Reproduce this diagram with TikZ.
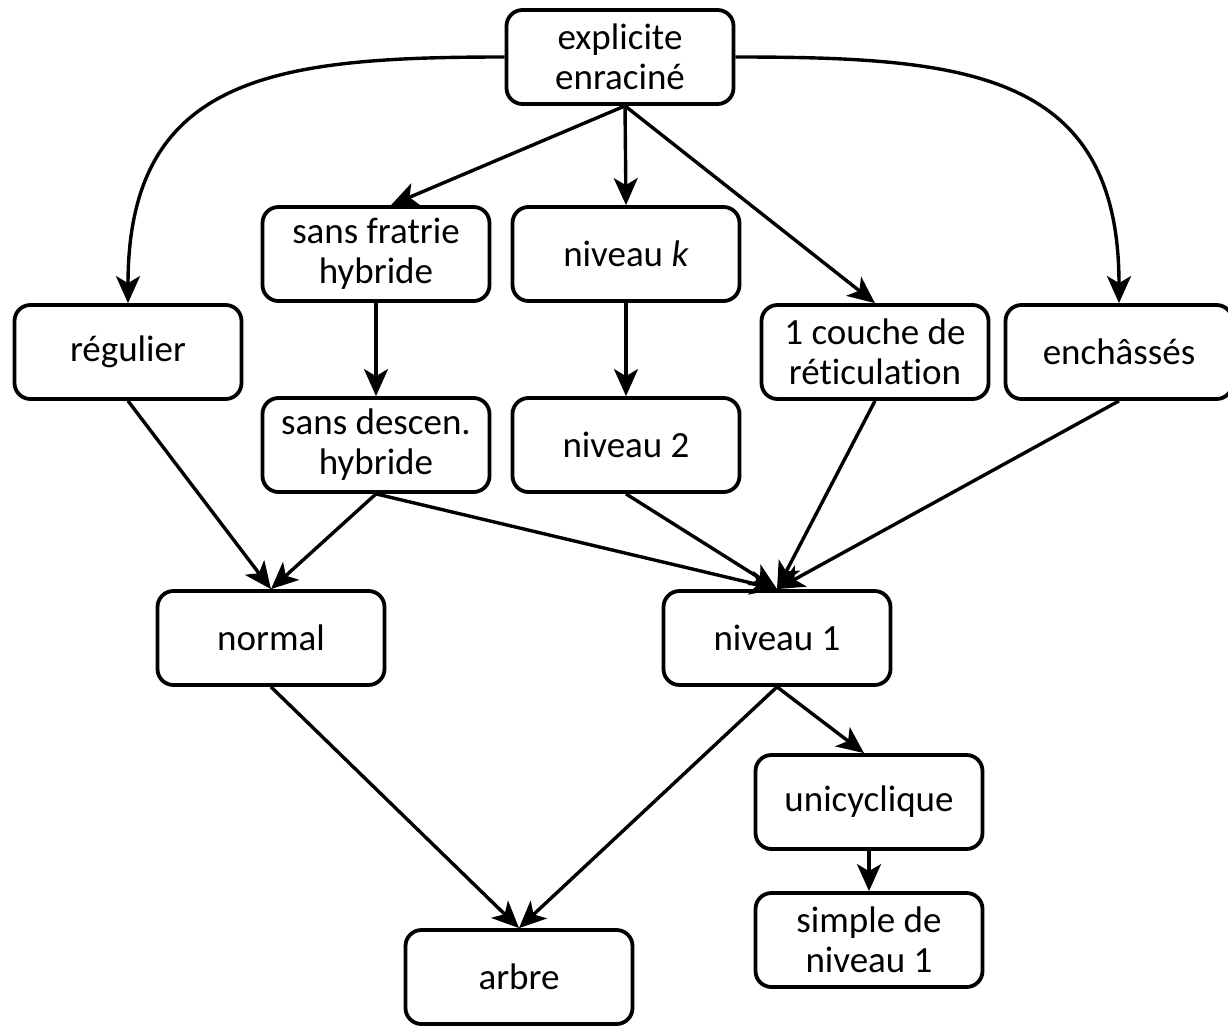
\documentclass[tikz,border=0pt]{standalone}
\usepackage{fontspec}
\setmainfont{Carlito}[Ligatures=NoCommon]
\usetikzlibrary{arrows.meta}
\begin{document}
\begin{tikzpicture}[x=1pt,y=1pt,
  box/.style={draw, line width=3.8pt, rounded corners=16pt, minimum width=227pt, minimum height=94pt, align=center, font=\fontsize{37}{40}\selectfont, inner sep=2pt},
  arr/.style={line width=3.4pt, -{Stealth[length=27pt,width=24pt,inset=7pt]}}]
\useasboundingbox (0,0) rectangle (1228,-1025);
\node[box] (e) at (620,-57) {explicite\\enraciné};
\node[box] (reg) at (128,-352) {régulier};
\node[box] (sf) at (376,-254) {sans fratrie\\hybride};
\node[box] (nk) at (626,-254) {niveau \textit{k}};
\node[box] (cr) at (875,-352) {1 couche de\\réticulation};
\node[box] (en) at (1119,-352) {enchâssés};
\node[box] (sd) at (376,-445) {sans descen.\\hybride};
\node[box] (n2) at (626,-445) {niveau 2};
\node[box] (no) at (271,-638) {normal};
\node[box] (n1) at (777,-638) {niveau 1};
\node[box] (un) at (869,-802) {unicyclique};
\node[box] (si) at (869,-940) {simple de\\niveau 1};
\node[box] (ar) at (519,-977) {arbre};
\coordinate (eb) at ([xshift=5pt]e.south);
\draw[arr] (e.west) to[out=180,in=90,looseness=1.3] (reg.north);
\draw[arr] (e.east) to[out=0,in=90,looseness=1.3] (en.north);
\draw[arr] (eb) -- ([xshift=15pt]sf.north);
\draw[arr] (eb) -- (nk.north);
\draw[arr] (eb) -- (cr.north);
\draw[arr] (sf.south) -- (sd.north);
\draw[arr] (nk.south) -- (n2.north);
\draw[arr] (reg.south) -- (no.north);
\draw[arr] (sd.south) -- (no.north);
\draw[arr] (sd.south) -- (n1.north);
\draw[arr] (n2.south) -- (n1.north);
\draw[arr] (cr.south) -- (n1.north);
\draw[arr] (en.south) -- (n1.north);
\draw[arr] (no.south) -- (ar.north);
\draw[arr] (n1.south) -- (ar.north);
\draw[arr] (n1.south) -- ([xshift=-5pt]un.north);
\draw[arr] (un.south) -- (si.north);
\end{tikzpicture}
\end{document}
